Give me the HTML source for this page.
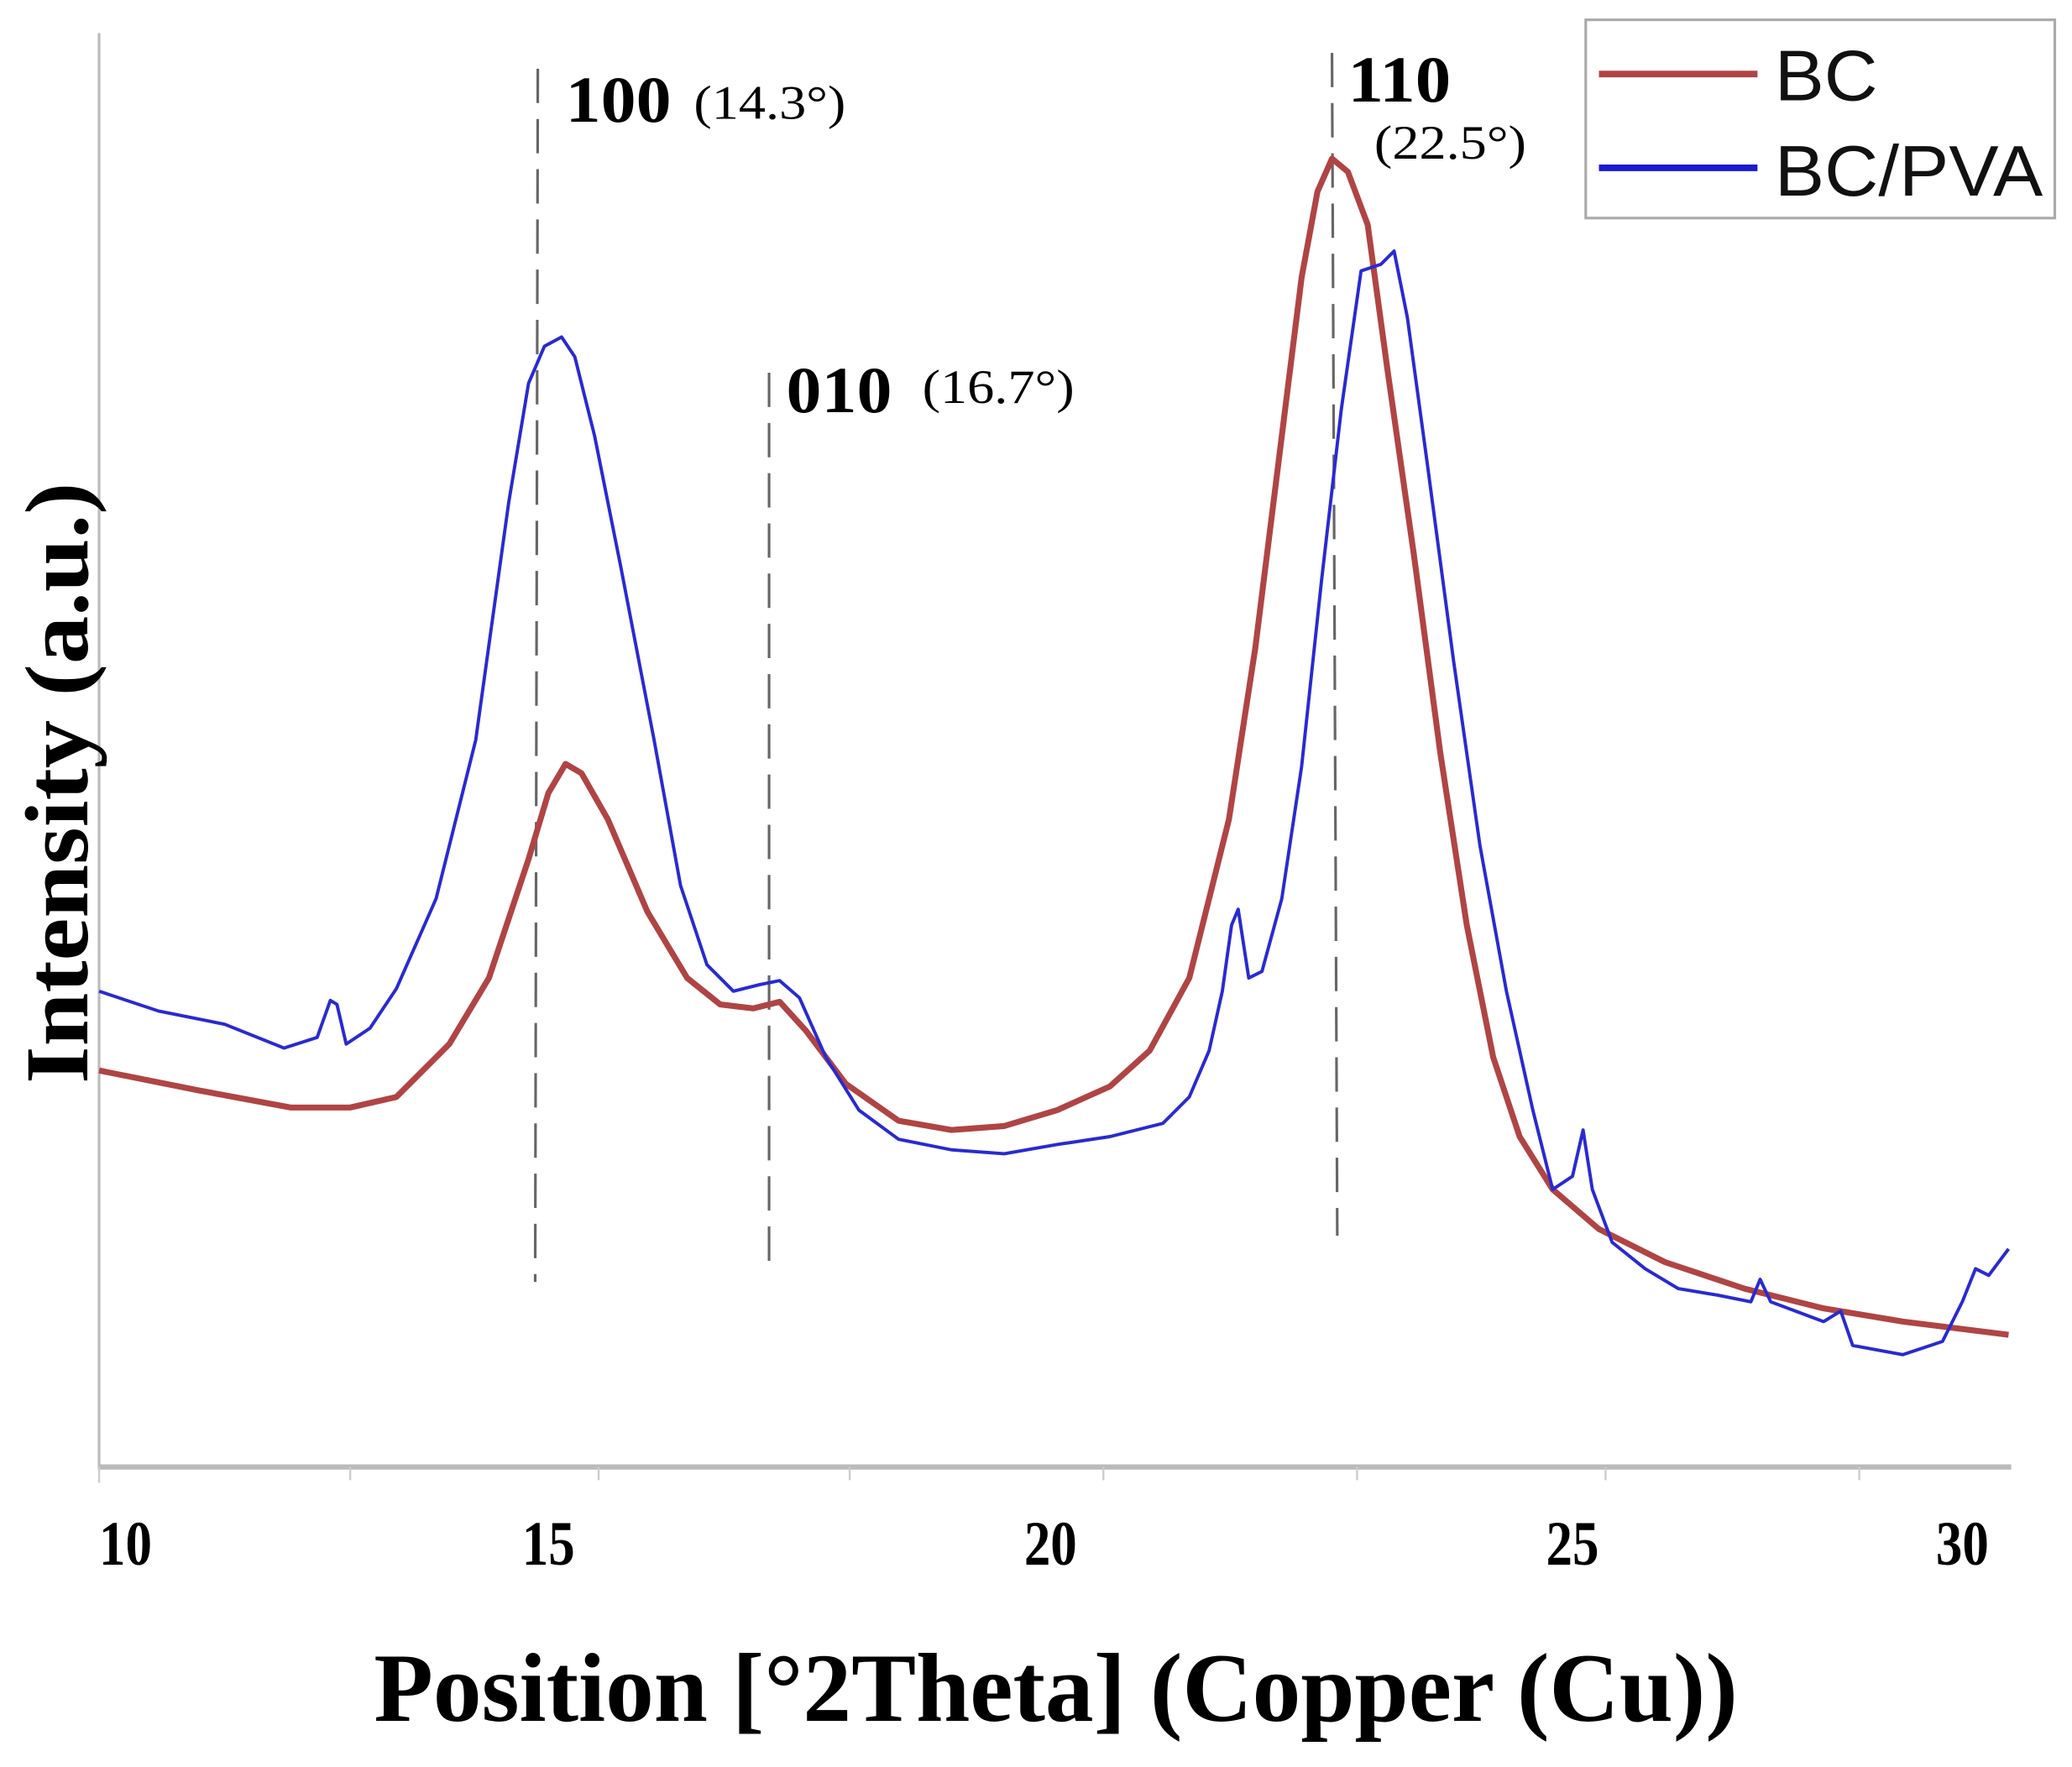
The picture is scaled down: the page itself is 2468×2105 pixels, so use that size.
<!DOCTYPE html>
<html><head><meta charset="utf-8"><style>html,body{margin:0;padding:0;background:#fff;}svg{display:block}</style></head>
<body>
<svg width="2468" height="2105" viewBox="0 0 1568 1337" preserveAspectRatio="none" xmlns="http://www.w3.org/2000/svg">
<rect width="1568" height="1337" fill="#fff"/>
<line x1="75" y1="25" x2="75" y2="1112" stroke="#bbb" stroke-width="2"/>
<line x1="75" y1="1110" x2="1522" y2="1110" stroke="#bbb" stroke-width="4"/>
<g stroke="#ccc" stroke-width="1.5">
<line x1="75" y1="1110" x2="75" y2="1122"/><line x1="265" y1="1110" x2="265" y2="1120"/><line x1="453" y1="1110" x2="453" y2="1120"/><line x1="643" y1="1110" x2="643" y2="1120"/><line x1="835" y1="1110" x2="835" y2="1120"/><line x1="1027" y1="1110" x2="1027" y2="1120"/><line x1="1215" y1="1110" x2="1215" y2="1120"/><line x1="1407" y1="1110" x2="1407" y2="1120"/>
</g>
<g font-family="Liberation Serif, serif" font-weight="bold" font-size="48" fill="#000" text-anchor="middle">
<text x="95" y="1184" textLength="40" lengthAdjust="spacingAndGlyphs">10</text><text x="415" y="1184" textLength="40" lengthAdjust="spacingAndGlyphs">15</text><text x="795" y="1184" textLength="40" lengthAdjust="spacingAndGlyphs">20</text><text x="1190" y="1184" textLength="40" lengthAdjust="spacingAndGlyphs">25</text><text x="1485" y="1184" textLength="40" lengthAdjust="spacingAndGlyphs">30</text>
</g>
<text x="283" y="1302" font-family="Liberation Serif, serif" font-weight="bold" font-size="74" fill="#000" textLength="1032" lengthAdjust="spacingAndGlyphs">Position [°2Theta] (Copper (Cu))</text>
<text transform="translate(66,820) rotate(-90)" font-family="Liberation Serif, serif" font-weight="bold" font-size="68" fill="#000" textLength="455" lengthAdjust="spacingAndGlyphs">Intensity (a.u.)</text>
<g stroke="#666" stroke-width="2" stroke-dasharray="26,12">
<line x1="407" y1="52" x2="405" y2="970"/>
<line x1="582" y1="282" x2="582" y2="962"/>
<line x1="1008" y1="40" x2="1012" y2="935"/>
</g>
<g font-family="Liberation Serif, serif" fill="#000">
<text x="428" y="92" font-size="50" font-weight="bold" textLength="80" lengthAdjust="spacingAndGlyphs">100</text>
<text x="525" y="90" font-size="36" textLength="115" lengthAdjust="spacingAndGlyphs">(14.3°)</text>
<text x="595" y="312" font-size="50" font-weight="bold" textLength="80" lengthAdjust="spacingAndGlyphs">010</text>
<text x="698" y="305" font-size="36" textLength="115" lengthAdjust="spacingAndGlyphs">(16.7°)</text>
<text x="1020" y="77" font-size="50" font-weight="bold" textLength="78" lengthAdjust="spacingAndGlyphs">110</text>
<text x="1040" y="120" font-size="36" textLength="115" lengthAdjust="spacingAndGlyphs">(22.5°)</text>
</g>
<polyline fill="none" stroke="#b04444" stroke-width="4.5" stroke-linejoin="round" points="75,810 150,825 220,838 265,838 300,830 340,790 370,740 400,650 415,600 428,578 440,585 460,620 490,690 520,740 545,760 570,763 590,758 610,780 640,820 680,848 720,855 760,852 800,840 840,822 870,795 900,740 930,620 950,490 970,330 985,210 997,145 1008,120 1020,130 1035,170 1050,280 1070,420 1090,570 1110,700 1130,800 1150,860 1175,900 1210,930 1260,955 1320,975 1380,990 1440,1000 1520,1010"/>
<polyline fill="none" stroke="#2a2ad0" stroke-width="2.5" stroke-linejoin="round" points="75,750 120,765 170,775 215,793 240,785 250,757 255,760 262,790 280,778 300,748 330,680 360,560 385,380 400,290 412,262 425,255 435,270 450,330 470,430 495,560 515,670 535,730 555,750 575,745 590,742 605,755 625,800 650,840 680,862 720,870 760,873 800,866 840,860 880,850 900,830 915,795 925,750 932,700 937,688 945,740 955,735 970,680 985,580 1000,440 1015,310 1030,205 1045,200 1055,190 1065,240 1080,350 1100,500 1120,640 1140,750 1160,840 1175,900 1190,890 1198,855 1205,900 1220,940 1245,960 1270,975 1300,980 1325,985 1332,968 1340,985 1380,1000 1393,992 1402,1018 1440,1025 1470,1015 1485,985 1495,960 1505,965 1520,945"/>
<rect x="1200" y="15" width="355" height="150" fill="#fff" stroke="#aaa" stroke-width="2"/>
<line x1="1210" y1="56" x2="1330" y2="56" stroke="#b04444" stroke-width="5"/>
<line x1="1210" y1="127" x2="1330" y2="127" stroke="#1a1ad0" stroke-width="5"/>
<g font-family="Liberation Sans, sans-serif" font-size="54" fill="#111">
<text x="1343" y="76" textLength="78" lengthAdjust="spacingAndGlyphs">BC</text>
<text x="1343" y="148" textLength="203" lengthAdjust="spacingAndGlyphs">BC/PVA</text>
</g>
</svg>
</body></html>
